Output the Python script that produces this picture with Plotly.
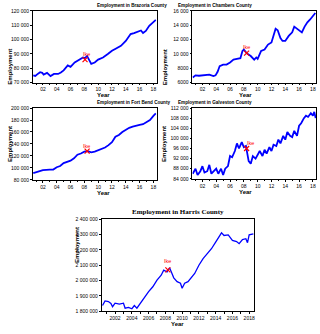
import plotly.graph_objects as go

W, H = 320, 334

# Brazoria County (employment, persons)
braz_x = [2000.6, 2000.9, 2001.3, 2001.6, 2001.9, 2002.1, 2002.6, 2003.1, 2003.6, 2004.2, 2004.6, 2005.0,
          2005.6, 2006.0, 2006.6, 2007.3, 2007.8, 2008.05, 2008.4, 2009.0, 2009.5, 2010.0, 2010.7, 2011.4,
          2012.0, 2012.6, 2013.3, 2014.0, 2014.7, 2015.2, 2015.7, 2016.2, 2016.5, 2016.9, 2017.4, 2018.0, 2018.35]
braz_y = [75000, 74600, 76200, 77200, 76800, 75500, 76700, 74500, 76000, 76000, 77000, 78500,
          82000, 81000, 84000, 86000, 87500, 87000, 88400, 83000, 84000, 86000, 87500, 89900,
          92200, 93800, 95600, 99000, 103800, 104500, 105400, 106300, 104500, 106000, 109600, 112400, 113700]

# Chambers County
cham_x = [2000.6, 2001.0, 2001.5, 2002.0, 2002.5, 2003.0, 2003.6, 2003.9, 2004.2, 2004.5, 2005.0, 2005.5,
          2006.0, 2006.5, 2007.0, 2007.5, 2007.8, 2008.0, 2008.4, 2009.0, 2009.5, 2009.8, 2010.0, 2010.5,
          2011.0, 2011.5, 2012.0, 2012.3, 2012.6, 2012.9, 2013.3, 2013.6, 2014.0, 2014.5, 2015.0, 2015.3,
          2015.7, 2016.0, 2016.4, 2016.8, 2017.2, 2017.6, 2018.0, 2018.35]
cham_y = [6700, 7000, 6950, 7000, 7050, 7100, 6900, 7000, 7500, 8300, 8500, 8500,
          8800, 9200, 9300, 9400, 10400, 10600, 10100, 9700, 9200, 9500, 9300, 10400,
          10600, 11300, 11600, 12500, 13500, 13300, 12200, 11800, 11800, 12500, 13000, 13800,
          13500, 13400, 13000, 13800, 14400, 14800, 15300, 15700]

# Fort Bend County
fb_x = [2000.6, 2001.5, 2002.0, 2003.0, 2003.5, 2004.0, 2004.5, 2005.0, 2005.5, 2006.0, 2006.5, 2007.0,
        2007.5, 2008.0, 2008.5, 2009.0, 2009.5, 2010.0, 2010.5, 2011.0, 2011.5, 2012.0, 2012.5, 2013.0,
        2013.5, 2014.0, 2014.5, 2015.0, 2015.5, 2016.0, 2016.5, 2017.0, 2017.5, 2018.0, 2018.35]
fb_y = [91000, 94000, 96000, 97000, 97000, 101000, 103000, 108000, 110000, 112000, 116000, 122000,
        124000, 127000, 128000, 126000, 127000, 129000, 132000, 134000, 138000, 143000, 152000, 155000,
        160000, 164000, 167000, 169000, 171000, 172000, 173000, 176000, 180000, 187000, 191000]

# Galveston County
gal_x = [2000.6, 2001.0, 2001.3, 2001.7, 2002.0, 2002.3, 2002.7, 2003.0, 2003.3, 2003.7, 2004.0, 2004.3,
         2004.7, 2005.0, 2005.3, 2005.7, 2006.0, 2006.3, 2006.7, 2007.0, 2007.3, 2007.7, 2008.0, 2008.3,
         2008.5, 2008.7, 2009.0, 2009.3, 2009.7, 2010.0, 2010.3, 2010.7, 2011.0, 2011.3, 2011.7, 2012.0,
         2012.3, 2012.7, 2013.0, 2013.3, 2013.7, 2014.0, 2014.3, 2014.7, 2015.0, 2015.3, 2015.7, 2016.0,
         2016.3, 2016.7, 2017.0, 2017.3, 2017.7, 2018.0, 2018.2, 2018.4]
gal_y = [86000, 88000, 85500, 87000, 89000, 86500, 87000, 89500, 86000, 87000, 88000, 86000,
         88000, 85500, 88000, 89000, 93000, 92500, 95000, 98000, 96000, 98500, 96500, 97000,
         94500, 91000, 90000, 93000, 92000, 93500, 95000, 93000, 95500, 94000, 96500, 95000,
         97500, 97000, 99500, 98000, 101000, 99500, 102500, 101000, 100500, 103000, 101000, 105000,
         106000, 108000, 109000, 108500, 110000, 109000, 110500, 108000]

# Harris County
har_x = [2000.5, 2000.8, 2001.2, 2001.5, 2001.7, 2002.0, 2002.5, 2003.0, 2003.2, 2003.6, 2004.0, 2004.3,
         2004.6, 2005.0, 2005.5, 2006.0, 2006.5, 2007.0, 2007.5, 2007.8, 2008.2, 2008.5, 2008.7, 2009.0,
         2009.4, 2009.8, 2010.0, 2010.3, 2010.7, 2011.0, 2011.5, 2012.0, 2012.5, 2013.0, 2013.5, 2014.0,
         2014.5, 2014.7, 2015.0, 2015.5, 2016.0, 2016.5, 2016.8, 2017.2, 2017.6, 2017.8, 2018.0, 2018.5]
har_y = [1838000, 1868000, 1864000, 1852000, 1830000, 1853000, 1847000, 1853000, 1821000, 1826000, 1817000, 1838000,
         1821000, 1853000, 1896000, 1928000, 1960000, 2003000, 2035000, 2068000, 2057000, 2083000, 2057000, 2018000,
         1993000, 1983000, 1950000, 1983000, 1993000, 2015000, 2046000, 2100000, 2143000, 2175000, 2207000, 2250000,
         2293000, 2310000, 2293000, 2297000, 2261000, 2254000, 2240000, 2267000, 2272000, 2246000, 2297000, 2304000]

# Hurricane Ike marker positions (x marker, label) per panel
ike = {
    "braz": (2008.1, 86000, 2008.3, 90000),
    "cham": (2008.4, 10100, 2008.4, 10900),
    "fb": (2008.4, 128000, 2008.3, 137000),
    "gal": (2008.4, 96000, 2008.9, 98000),
    "har": (2008.3, 2070000, 2008.2, 2125000),
}

short_ticks = [2002, 2004, 2006, 2008, 2010, 2012, 2014, 2016, 2018]
short_text = ["02", "04", "06", "08", "10", "12", "14", "16", "18"]
long_ticks = short_ticks
long_text = [str(v) for v in short_ticks]


def px(p):
    return p / W


def py(p):
    return 1 - p / H


# name, title, x, y, tickvals, ticktext, y-range, pixel box (l, r, t, b)
panels = [
    ("braz", "Employment in Brazoria County", braz_x, braz_y,
     [70000, 80000, 90000, 100000, 110000, 120000],
     ["70 000", "80 000", "90 000", "100 000", "110 000", "120 000"], [70000, 120000], (33, 157, 8, 81)),
    ("cham", "Employment in Chambers County", cham_x, cham_y,
     [6000, 8000, 10000, 12000, 14000, 16000],
     ["6000", "8000", "10 000", "12 000", "14 000", "16 000"], [6000, 16000], (193, 317, 8, 81)),
    ("fb", "Employment in Fort Bend County", fb_x, fb_y,
     [80000, 100000, 120000, 140000, 160000, 180000, 200000],
     ["80 000", "100 000", "120 000", "140 000", "160 000", "180 000", "200 000"], [80000, 200000],
     (33, 157, 107, 180)),
    ("gal", "Employment in Galveston County", gal_x, gal_y,
     [84000, 88000, 92000, 96000, 100000, 104000, 108000, 112000],
     ["84 000", "88 000", "92 000", "96 000", "100 000", "104 000", "108 000", "112 000"], [84000, 112000],
     (193, 317, 107, 179)),
    ("har", "Employment in Harris County", har_x, har_y,
     [1800000, 1900000, 2000000, 2100000, 2200000, 2300000, 2400000],
     ["1 800 000", "1 900 000", "2 000 000", "2 100 000", "2 200 000", "2 300 000", "2 400 000"],
     [1800000, 2400000], (102, 255, 220, 314)),
]

fig = go.Figure()
layout = {}
notes = []
sans = "Liberation Sans"
serif = "Liberation Serif"

for i, (key, title, xs, ys, yt, ytxt, yr, box) in enumerate(panels, start=1):
    l, r, t, b = box
    ax = "" if i == 1 else str(i)
    is_har = key == "har"
    fig.add_trace(go.Scatter(x=xs, y=ys, mode="lines", xaxis="x" + ax, yaxis="y" + ax,
                             line=dict(color="#0000ff", width=1.3 if is_har else 1.8),
                             showlegend=False))
    mx, my, lx, ly = ike[key]
    fig.add_trace(go.Scatter(x=[mx], y=[my], mode="markers", xaxis="x" + ax, yaxis="y" + ax,
                             marker=dict(symbol="x-thin", size=5, color="red",
                                         line=dict(width=1.2, color="red")),
                             showlegend=False))
    notes.append(dict(x=lx, y=ly, xref="x" + ax, yref="y" + ax, text="Ike", showarrow=False,
                      font=dict(family=sans, size=5.5, color="red")))
    xr = [2000.4, 2018.6] if is_har else [2000.55, 2018.45]
    layout["xaxis" + ax] = dict(
        domain=[px(l), px(r)], anchor="y" + ax, range=xr,
        tickvals=long_ticks if is_har else short_ticks,
        ticktext=long_text if is_har else short_text,
        ticks="outside", ticklen=2, tickwidth=0.6, tickcolor="black",
        minor=dict(dtick=1, ticks="outside", ticklen=1.5, tickcolor="black", tickwidth=0.5),
        showline=True, linecolor="black", linewidth=0.7, mirror=True,
        showgrid=False, zeroline=False,
        tickfont=dict(family=sans, size=5, color="black"),
    )
    layout["yaxis" + ax] = dict(
        domain=[py(b), py(t)], anchor="x" + ax, range=yr,
        tickvals=yt, ticktext=ytxt,
        ticks="outside", ticklen=2, tickwidth=0.6, tickcolor="black",
        showline=True, linecolor="black", linewidth=0.7, mirror=True,
        showgrid=False, zeroline=False,
        tickfont=dict(family=sans, size=5, color="black"),
    )
    notes.append(dict(x=px((l + r) / 2), y=py(t - 1), xref="paper", yref="paper",
                      text="<b>" + title + "</b>", showarrow=False, yanchor="bottom",
                      font=dict(family=serif if is_har else sans, size=7 if is_har else 4.6,
                                color="black")))
    notes.append(dict(x=px((l + r) / 2), y=py(b + 8), xref="paper", yref="paper",
                      text="<b>Year</b>", showarrow=False, yanchor="top",
                      font=dict(family=sans, size=6, color="black")))
    ex = 72 if is_har else (l - 28)
    notes.append(dict(x=px(ex), y=py((t + b) / 2), xref="paper", yref="paper",
                      text="<b>Employment</b>", showarrow=False, textangle=-90,
                      font=dict(family=sans, size=6, color="black")))

fig.update_layout(
    width=W, height=H, margin=dict(l=0, r=0, t=0, b=0),
    paper_bgcolor="white", plot_bgcolor="white",
    annotations=notes, **layout,
)

fig.write_html("out.html", config=dict(displayModeBar=False),
               post_script="document.body.style.margin='0';")
